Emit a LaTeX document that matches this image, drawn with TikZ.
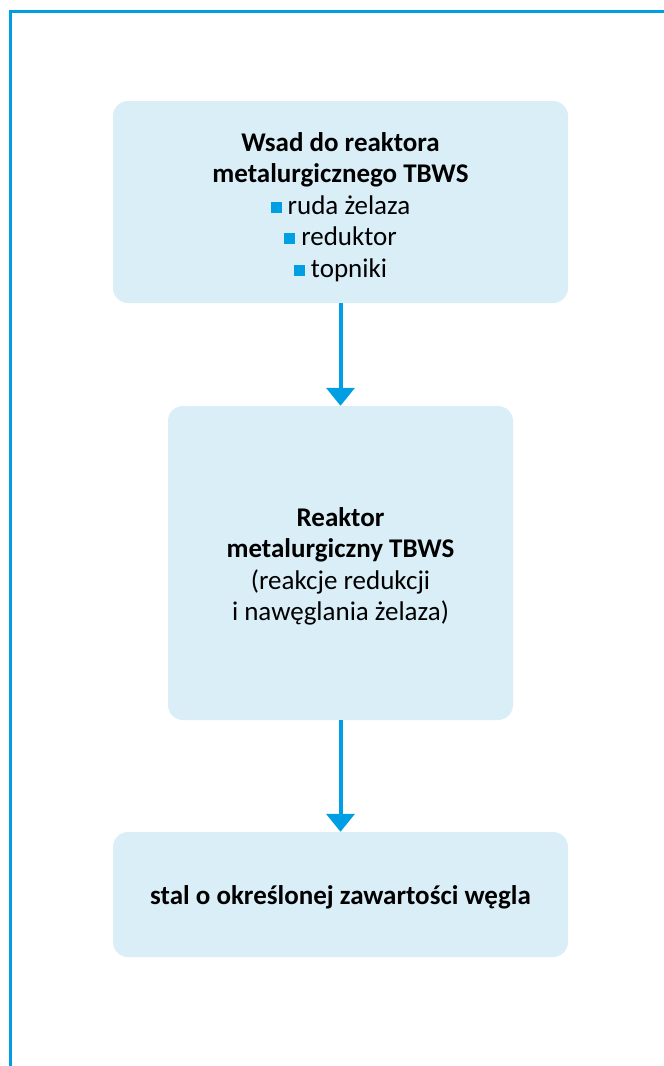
\documentclass[tikz,border=0pt]{standalone}
\usepackage{fontspec}
\setmainfont{Carlito}
\usetikzlibrary{arrows.meta}
\definecolor{frameblue}{HTML}{009FE3}
\definecolor{boxfill}{HTML}{DAEEF8}
\newcommand{\sqbullet}{\textcolor{frameblue}{\raisebox{1.5pt}{\rule{11pt}{11pt}}}\hspace{6pt}}
\newcommand{\boxtext}[2][4pt]{\raisebox{-#1}[\height][\depth]{\begin{tabular}{@{}c@{}}#2\end{tabular}}}
\tikzset{
  flowbox/.style={fill=boxfill, draw=none, rounded corners=15pt, align=center,
    inner sep=0pt, font=\fontsize{27}{31.5}\selectfont, text=black},
  flowarrow/.style={draw=frameblue, line width=4pt, -{Triangle[width=28pt,length=18pt]}},
  frameline/.style={draw=frameblue, line width=3pt}
}
\begin{document}
\begin{tikzpicture}[x=1pt,y=-1pt]
\useasboundingbox (0,0) rectangle (664,1066);
\coordinate (fb) at (10.5,1066);
\coordinate (fc) at (10.5,11);
\coordinate (fr) at (664,11);
\draw[frameline] (fb) -- (fc) -- (fr);
\node[flowbox, minimum width=455pt, minimum height=202pt] (b1) at (340.5,202)
  {\boxtext[6pt]{\textbf{Wsad do reaktora}\\ \textbf{metalurgicznego TBWS}\\ \sqbullet ruda żelaza\\ \sqbullet reduktor\\ \sqbullet topniki}};
\node[flowbox, minimum width=345pt, minimum height=314pt] (b2) at (340.5,563)
  {\boxtext{\textbf{Reaktor}\\ \textbf{metalurgiczny TBWS}\\ (reakcje redukcji\\ i nawęglania żelaza)}};
\node[flowbox, minimum width=455pt, minimum height=125pt] (b3) at (340.5,894.5)
  {\boxtext{\textbf{stal o określonej zawartości węgla}}};
\draw[flowarrow] (b1.south) -- (b2.north);
\draw[flowarrow] (b2.south) -- (b3.north);
\end{tikzpicture}
\end{document}
